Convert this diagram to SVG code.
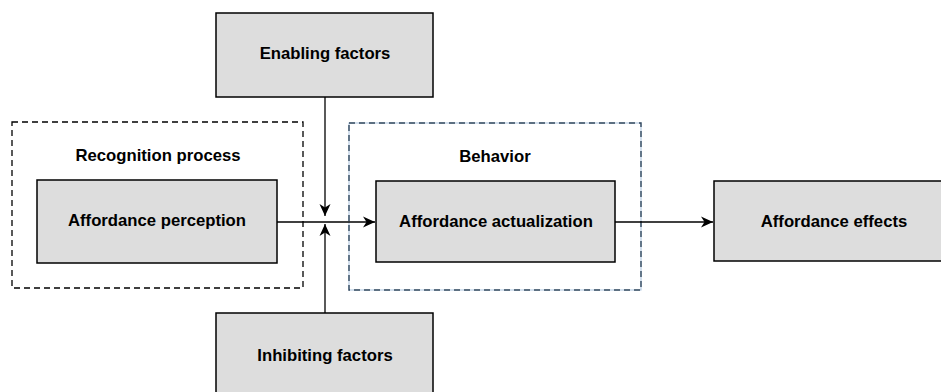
<svg xmlns="http://www.w3.org/2000/svg" width="941" height="392" viewBox="0 0 941 392">
<style>
.box{fill:#dddddd;stroke:#000;stroke-width:1.5}
.grp{fill:none;stroke:#000;stroke-width:1.3;stroke-dasharray:6 4}
.grpb{fill:none;stroke:#34495e;stroke-width:1.4;stroke-dasharray:6 4}
.t{font-family:"Liberation Sans",Arial,Helvetica,sans-serif;font-weight:bold;font-size:16.7px;fill:#000;text-anchor:middle;dominant-baseline:central}
.c{fill:none;stroke:#000;stroke-width:1.3}
</style>
<defs>
<marker id="ah" viewBox="0 0 13 13" refX="12" refY="6.5" markerWidth="13" markerHeight="13" markerUnits="userSpaceOnUse" orient="auto">
<path d="M0,1 L12,6.5 L0,12 L3.5,6.5 Z" fill="#000"/>
</marker>
</defs>
<g id="recognition-group">
<rect class="grp" x="12" y="122" width="291" height="166"/>
<text class="t" x="158" y="155">Recognition process</text>
</g>
<g id="behavior-group">
<rect x="349" y="123" width="292" height="167" fill="none" stroke="#a9c2dd" stroke-width="1"/>
<rect class="grpb" x="349" y="123" width="292" height="167"/>
<text class="t" x="495" y="156">Behavior</text>
</g>
<g id="enabling">
<rect class="box" x="216" y="13" width="217" height="84"/>
<text class="t" x="325" y="53">Enabling factors</text>
</g>
<g id="perception">
<rect class="box" x="37" y="180" width="240" height="83"/>
<text class="t" x="157" y="220">Affordance perception</text>
</g>
<g id="actualization">
<rect class="box" x="376" y="181" width="239" height="81"/>
<text class="t" x="496" y="221">Affordance actualization</text>
</g>
<g id="effects">
<rect class="box" x="714" y="181" width="240" height="80"/>
<text class="t" x="834" y="221">Affordance effects</text>
</g>
<g id="inhibiting">
<rect class="box" x="216" y="313" width="217" height="90"/>
<text class="t" x="325" y="355">Inhibiting factors</text>
</g>
<g id="connectors">
<path class="c" d="M277,222 H375" marker-end="url(#ah)"/>
<path class="c" d="M325,97 V216" marker-end="url(#ah)"/>
<path class="c" d="M325,313 V224" marker-end="url(#ah)"/>
<path class="c" d="M615,222 H713" marker-end="url(#ah)"/>
</g>
</svg>
